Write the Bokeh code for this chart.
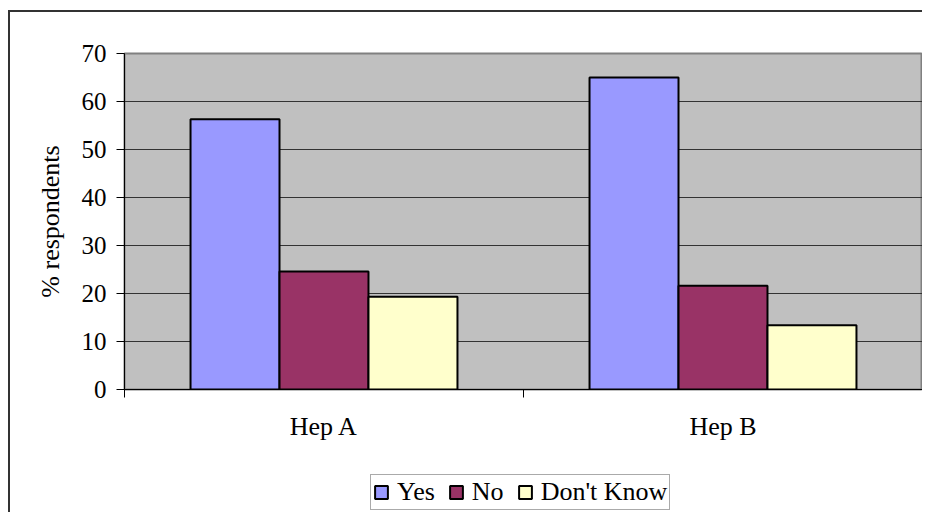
from bokeh.plotting import figure
from bokeh.layouts import column
from bokeh.models import ColumnDataSource, FixedTicker, Legend, LegendItem, Range1d
from bokeh.transform import dodge
from bokeh.embed import file_html
from bokeh.resources import INLINE

categories = ["Hep A", "Hep B"]
series_names = ["Yes", "No", "Don't Know"]
yes = [56.3, 65.0]
no = [24.6, 21.6]
dont_know = [19.3, 13.4]
y_ticks = [0, 10, 20, 30, 40, 50, 60, 70]
colors = ["#9999FF", "#993366", "#FFFFCC"]

x_centers = [i + 0.5 for i in range(len(categories))]
src = ColumnDataSource(dict(x=x_centers, yes=yes, no=no, dk=dont_know))

FONT = "Liberation Serif"

# ---------------- main chart ----------------
p = figure(width=912, height=462,
           x_range=Range1d(0, len(categories)), y_range=Range1d(0, 70),
           output_backend="svg", toolbar_location=None,
           min_border_left=114, min_border_right=0,
           min_border_top=41, min_border_bottom=85)

p.background_fill_color = "#C0C0C0"
p.border_fill_color = "white"
p.outline_line_color = "#808080"
p.outline_line_width = 2

bw = 0.223
cols = ["yes", "no", "dk"]
offsets = [-bw, 0, bw]
for col, off, color in zip(cols, offsets, colors):
    p.vbar(x=dodge("x", off, range=p.x_range), top=col, width=bw, bottom=0,
           source=src, fill_color=color, line_color="black", line_width=2)

p.xgrid.grid_line_color = None
p.ygrid.grid_line_color = "#333333"
p.ygrid.grid_line_width = 1
p.ygrid.ticker = FixedTicker(ticks=y_ticks)

p.yaxis.ticker = FixedTicker(ticks=y_ticks, minor_ticks=[])
p.yaxis.axis_label = "% respondents"
p.yaxis.axis_label_text_font = FONT
p.yaxis.axis_label_text_font_style = "normal"
p.yaxis.axis_label_text_font_size = "26px"
p.yaxis.axis_label_text_color = "black"
p.yaxis.axis_label_standoff = 14
p.yaxis.major_label_text_font = FONT
p.yaxis.major_label_text_font_size = "25px"
p.yaxis.major_label_text_color = "black"
p.yaxis.major_label_standoff = 10
p.yaxis.major_tick_out = 8
p.yaxis.major_tick_in = 0
p.yaxis.major_tick_line_color = "black"
p.yaxis.axis_line_color = "black"
p.yaxis.axis_line_width = 1

p.xaxis.ticker = FixedTicker(ticks=x_centers,
                             minor_ticks=[i for i in range(len(categories) + 1)])
p.xaxis.major_label_overrides = {x_centers[i]: categories[i] for i in range(len(categories))}
p.xaxis.major_label_text_font = FONT
p.xaxis.major_label_text_font_size = "26px"
p.xaxis.major_label_text_color = "black"
p.xaxis.major_label_standoff = 14
p.xaxis.major_tick_out = 0
p.xaxis.major_tick_in = 0
p.xaxis.minor_tick_out = 8
p.xaxis.minor_tick_in = 0
p.xaxis.minor_tick_line_color = "black"
p.xaxis.axis_line_color = "black"
p.xaxis.axis_line_width = 1

# ---------------- legend strip ----------------
# same bars, hidden; only their legend swatches show
p2 = figure(width=912, height=38, x_range=Range1d(0, len(categories)), y_range=Range1d(0, 70),
            x_axis_type=None, y_axis_type=None,
            output_backend="svg", toolbar_location=None,
            min_border_left=0, min_border_right=0, min_border_top=0, min_border_bottom=0)
p2.outline_line_color = None
p2.background_fill_color = "white"
p2.border_fill_color = "white"

legend_renderers = []
for col, color in zip(cols, colors):
    r = p2.vbar(x="x", top=col, width=bw, bottom=0, source=src,
                fill_color=color, line_color="black", line_width=2, visible=False)
    legend_renderers.append(r)

legend = Legend(items=[LegendItem(label=n, renderers=[r])
                       for n, r in zip(series_names, legend_renderers)],
                orientation="horizontal", location=(246, 2))
legend.label_text_font = FONT
legend.label_text_font_size = "26px"
legend.label_text_color = "black"
legend.glyph_width = 16
legend.glyph_height = 16
legend.label_standoff = 8
legend.spacing = 13
legend.padding = 2
legend.margin = 0
legend.border_line_color = "#555555"
legend.border_line_width = 1
legend.background_fill_color = "white"
legend.background_fill_alpha = 1
legend.inactive_fill_alpha = 0
p2.add_layout(legend, "center")

layout = column(p, p2, spacing=0,
                styles={"border-top": "2px solid #333333", "border-left": "2px solid #333333",
                        "margin-top": "10px", "margin-left": "8px"})

open("out.html", "w").write(file_html(layout, INLINE))
